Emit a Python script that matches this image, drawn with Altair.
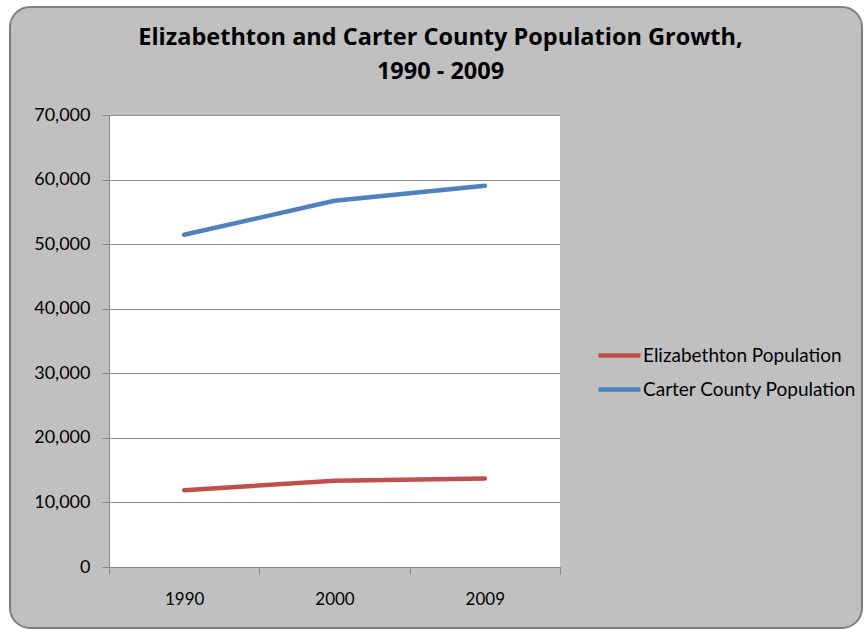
import altair as alt
import pandas as pd

# Population by census year
years = ["1990", "2000", "2009"]
elizabethton = [11900, 13340, 13710]
carter_county = [51450, 56720, 59030]

series_names = ["Elizabethton Population", "Carter County Population"]
series_colors = ["#C0504D", "#4F81BD"]

rows = []
for y, e, c in zip(years, elizabethton, carter_county):
    rows.append({"Year": y, "Series": series_names[0], "Population": e})
    rows.append({"Year": y, "Series": series_names[1], "Population": c})
df = pd.DataFrame(rows)

W, H = 451, 452
FONT = "Lato"

one_row = alt.Data(values=[{}])

# Rounded grey chart frame behind everything
frame = alt.Chart(one_row).mark_rect(
    cornerRadius=20, fill="#C0C0C0", stroke="#7F7F7F", strokeWidth=2
).encode(
    x=alt.value(-99), x2=alt.value(W + 302),
    y=alt.value(-108), y2=alt.value(H + 61),
)

# White plotting area
plot_bg = alt.Chart(one_row).mark_rect(fill="white").encode(
    x=alt.value(0), x2=alt.value(W),
    y=alt.value(0), y2=alt.value(H),
)

lines = alt.Chart(df).mark_line(strokeWidth=4.5, strokeCap="round").encode(
    x=alt.X(
        "Year:N",
        scale=alt.Scale(type="band", domain=years, paddingInner=0, paddingOuter=0),
        axis=alt.Axis(
            title=None, labelAngle=0, tickBand="extent", ticks=True,
            tickSize=7, tickColor="#868686", domainColor="#868686",
            labelPadding=17, labelFontSize=17, labelFont=FONT,
            labelColor="#000000", grid=False, zindex=1,
        ),
    ),
    y=alt.Y(
        "Population:Q",
        scale=alt.Scale(domain=[0, 70000], nice=False),
        axis=alt.Axis(
            title=None, values=list(range(0, 70001, 10000)),
            labelExpr="format(datum.value, ',')",
            tickSize=7, tickColor="#868686", domainColor="#868686",
            gridColor="#8C8C8C", gridWidth=1, labelPadding=12,
            labelFontSize=18, labelFont=FONT, labelColor="#000000", zindex=1,
        ),
    ),
    color=alt.Color(
        "Series:N",
        scale=alt.Scale(domain=series_names, range=series_colors),
        legend=alt.Legend(
            title=None, orient="none", legendX=487, legendY=217,
            symbolType="stroke", symbolSize=1764, symbolStrokeWidth=4.5,
            labelFontSize=19, labelFont=FONT, labelColor="#000000",
            labelOffset=0, rowPadding=0, labelLimit=400,
        ),
    ),
    order=alt.Order("Year:N"),
)

chart = alt.layer(frame, plot_bg, lines).properties(
    width=W,
    height=H,
    autosize=alt.AutoSizeParams(type="none"),
    padding={"left": 109, "top": 115, "right": 307, "bottom": 63},
    background="white",
    title=alt.TitleParams(
        text=["Elizabethton and Carter County Population Growth,", "1990 - 2009"],
        font="Open Sans", fontSize=23.5, fontWeight="bold", color="#000000",
        anchor="middle", frame="group", dx=106, offset=-77, lineHeight=34,
    ),
).configure_view(stroke=None, fill=None)

chart.save("out.html", embed_options={"renderer": "svg", "actions": False})
